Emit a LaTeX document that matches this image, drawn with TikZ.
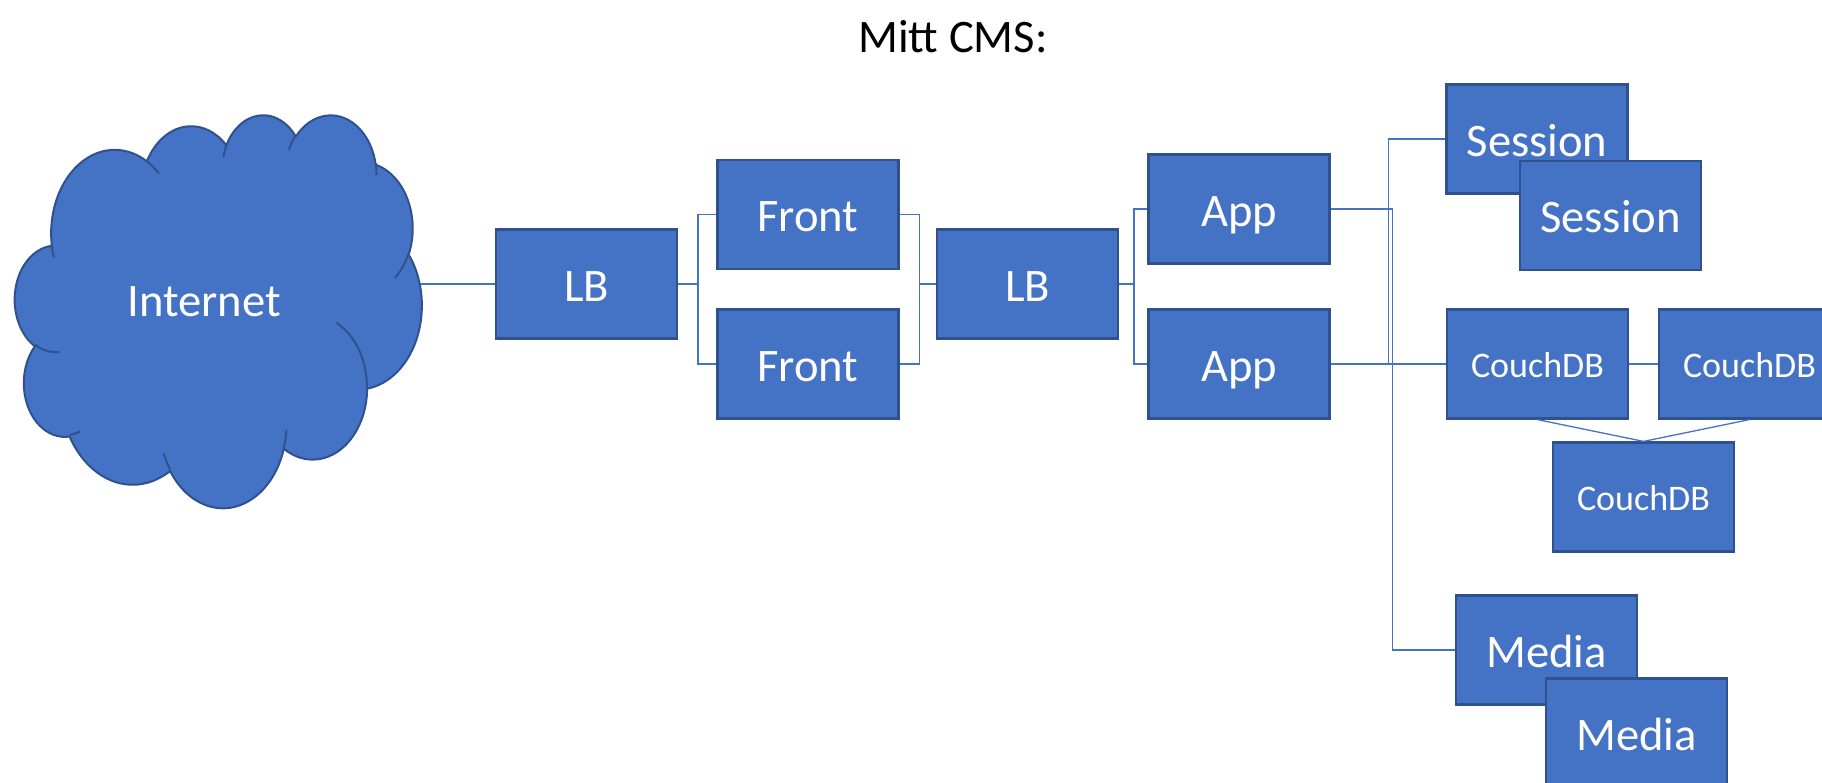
\documentclass[tikz,border=0pt]{standalone}
\usepackage{fontspec}
\setmainfont{Carlito}
\definecolor{officeblue}{HTML}{4472C4}
\definecolor{officeedge}{HTML}{2F528F}

\begin{document}
\begin{tikzpicture}[x=1pt, y=-1pt,
  box/.style={draw=officeedge, line width=2.2pt, fill=officeblue, text=white,
    minimum width=181pt, minimum height=109pt, inner sep=0pt,
    text height=46pt, text depth=11.6pt,
    font=\fontsize{46.6}{56}\selectfont},
  smallbox/.style={box, text height=35.5pt, text depth=9.5pt,
    font=\fontsize{36}{43}\selectfont},
  link/.style={draw=officeblue, line width=1.3pt},
  puff/.style={draw=officeedge, line width=2pt}]
  \useasboundingbox (0,0) rectangle (1822,783);
  \def\frontx{808}
  \def\appx{1239}
  \def\elbow{20}

  \node[font=\fontsize{46.6}{56}\selectfont] (title) at (953, 37) {Mitt CMS:};

  \node[box] (lb1) at (586.5, 284) {LB};
  \node[box] (front1) at (\frontx, 214.5) {Front};
  \node[box] (front2) at (\frontx, 364) {Front};
  \node[box] (lb2) at (1027.5, 284) {LB};
  \node[box] (app1) at (\appx, 209) {App};
  \node[box] (app2) at (\appx, 364) {App};

  \node[box] (sess1) at (1537, 139) {Session};
  \node[box] (sess2) at (1610.5, 215.5) {Session};

  \node[smallbox] (couch1) at (1537.5, 364) {CouchDB};
  \node[smallbox] (couch2) at (1749.5, 364) {CouchDB};
  \node[smallbox] (couch3) at (1643.5, 497) {CouchDB};

  \node[box] (media1) at (1546.5, 650) {Media};
  \node[box] (media2) at (1636.5, 733) {Media};

  \coordinate (inetport) at (412, 284);
  \draw[link] (lb1.west) -- (inetport);

  \draw[link] (lb1.east) -- ++(\elbow, 0) |- (front1.west);
  \draw[link] (lb1.east) -- ++(\elbow, 0) |- (front2.west);

  \draw[link] (front1.east) -- ++(\elbow, 0) |- (lb2.west);
  \draw[link] (front2.east) -- ++(\elbow, 0) |- (lb2.west);

  \draw[link] (lb2.east) -- ++(15, 0) |- (app1.west);
  \draw[link] (lb2.east) -- ++(15, 0) |- (app2.west);

  \draw[link] (app2.east) -- ++(58, 0) |- (sess1.west);
  \draw[link] (app2.east) -- (couch1.west);
  \draw[link] (app1.east) -- ++(62, 0) |- (media1.west);

  \draw[link] (couch1.east) -- (couch2.west);
  \draw[link] (couch1.south) -- (couch3.north);
  \draw[link] (couch2.south) -- (couch3.north);

  % cloud
  \begin{scope}[shift={(15, 114)}, x=0.009421pt, y=-0.009097pt]
    \filldraw[puff, fill=officeblue] (3900, 14370)
      arc[start angle=-187.75, end angle=-59.64, x radius=6753, y radius=9190]
      arc[start angle=-152.02, end angle=-45.45, x radius=5333, y radius=7267]
      arc[start angle=-153.49, end angle=-37.34, x radius=4365, y radius=5945]
      arc[start angle=-139.71, end angle=-10.21, x radius=4857, y radius=6595]
      arc[start angle=-74.77, end angle=23.21, x radius=5333, y radius=7273]
      arc[start angle=-37.52, end angle=81.86, x radius=6775, y radius=9220]
      arc[start angle=0.46, end angle=121.98, x radius=5785, y radius=7867]
      arc[start angle=16.84, end angle=146.24, x radius=6752, y radius=9215]
      arc[start angle=58.98, end angle=150.20, x radius=7720, y radius=10543]
      arc[start angle=-276.69, end angle=-136.88, x radius=4360, y radius=5918]
      arc[start angle=-239.65, end angle=-95.89, x radius=4345, y radius=5945]
      -- cycle;
    \draw[puff] (4693, 26177) arc[start angle=85.55, end angle=120.35, x radius=4345, y radius=5945];
    \draw[puff] (6928, 34899) arc[start angle=68.23, end angle=83.31, x radius=4360, y radius=5918];
    \draw[puff] (16478, 39090) arc[start angle=146.24, end angle=158.47, x radius=6752, y radius=9215];
    \draw[puff] (28827, 34751) arc[start angle=4.74, end angle=16.84, x radius=6752, y radius=9215];
    \draw[puff] (34129, 22954) arc[start angle=-64.03, end angle=0.46, x radius=5785, y radius=7867];
    \draw[puff] (41798, 15354) arc[start angle=23.21, end angle=49.65, x radius=5333, y radius=7273];
    \draw[puff] (38324, 5426) arc[start angle=-10.21, end angle=0.82, x radius=4857, y radius=6595];
    \draw[puff] (29078, 3952) arc[start angle=-156.29, end angle=-139.71, x radius=4857, y radius=6595];
    \draw[puff] (22141, 4720) arc[start angle=-167.72, end angle=-153.49, x radius=4365, y radius=5945];
    \draw[puff] (14000, 5192) arc[start angle=-59.64, end angle=-45.74, x radius=6753, y radius=9190];
    \draw[puff] (4127, 15789) arc[start angle=163.19, end angle=172.25, x radius=6753, y radius=9190];
  \end{scope}
  \node[text=white, font=\fontsize{46.6}{56}\selectfont] (inet) at (204, 302) {Internet};
\end{tikzpicture}
\end{document}
